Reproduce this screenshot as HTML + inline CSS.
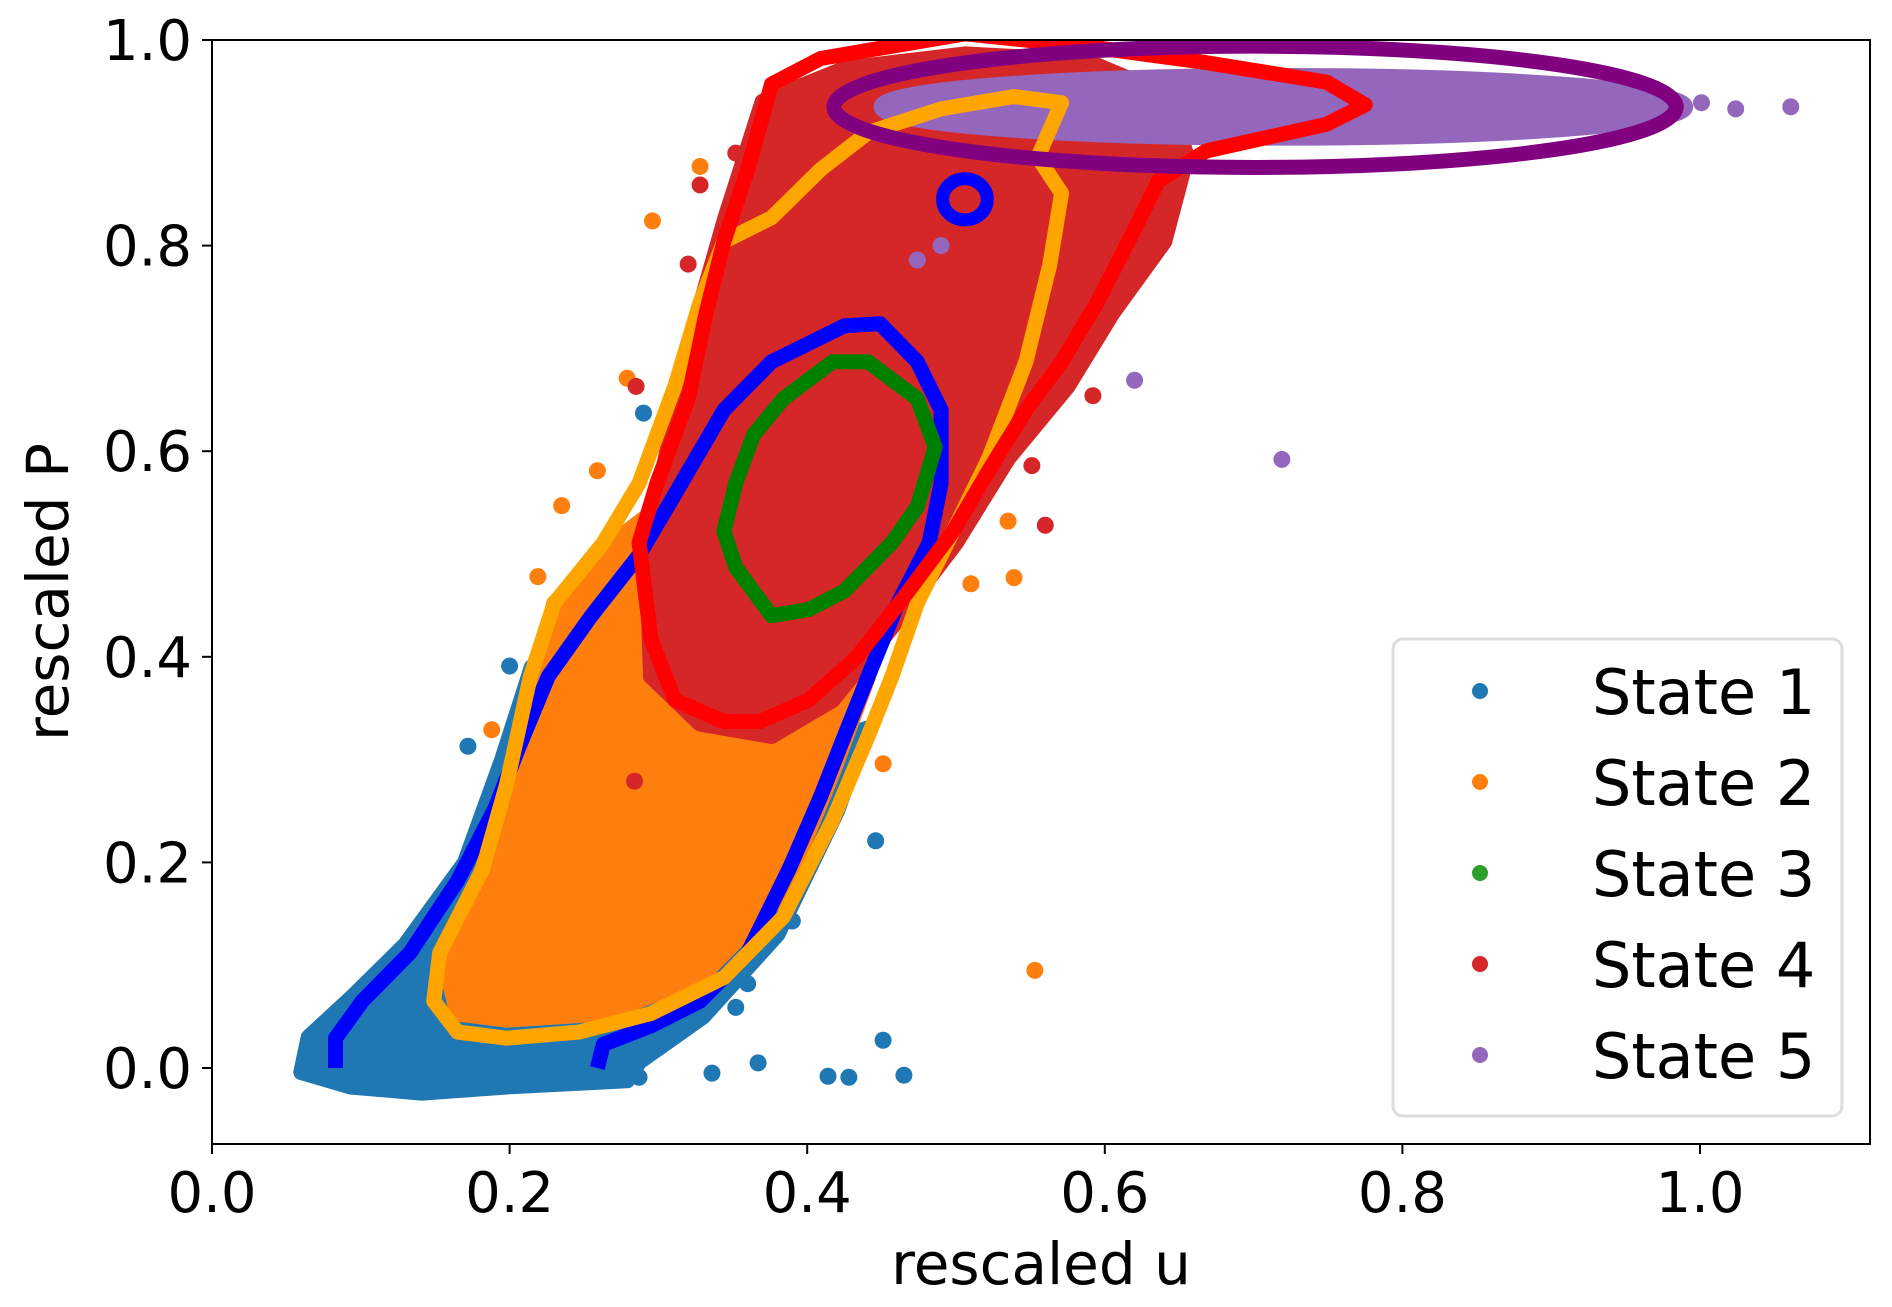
<!DOCTYPE html>
<html><head><meta charset="utf-8"><style>
html,body{margin:0;padding:0;background:#fff;}
svg{display:block;font-family:"DejaVu Sans","Liberation Sans",sans-serif;}
</style></head><body>
<svg id="chart" width="1892" height="1307" viewBox="0 0 1892 1307" xmlns="http://www.w3.org/2000/svg">
<defs><clipPath id="clip"><rect x="212" y="40" width="1658" height="1104"/></clipPath></defs>
<rect x="0" y="0" width="1892" height="1307" fill="#fff"/>
<g id="plot" clip-path="url(#clip)"></g>
<rect x="212" y="40" width="1658" height="1104" fill="none" stroke="#000" stroke-width="2"/>
<g id="ticks"></g>
<text x="1041" y="1284" font-size="58" text-anchor="middle">rescaled u</text>
<text x="0" y="0" font-size="58" text-anchor="middle" transform="translate(68,592) rotate(-90)">rescaled P</text>
<g>
<rect x="1393" y="639" width="449" height="477" rx="10" fill="#fff" fill-opacity="0.8" stroke="#ddd" stroke-width="3"/>
<g id="legend"></g>
</g>
</svg>
<script>
const NS="http://www.w3.org/2000/svg";
const xTicks=[0.0,0.2,0.4,0.6,0.8,1.0];
const yTicks=[0.0,0.2,0.4,0.6,0.8,1.0];
const stateNames=["State 1","State 2","State 3","State 4","State 5"];
const stateColors=["#1f77b4","#ff7f0e","#2ca02c","#d62728","#9467bd"];
// dense cloud outlines (u,P)
const cloud1=[[0.060,-0.004],[0.093,-0.018],[0.141,-0.024],[0.198,-0.018],[0.279,-0.012],[0.287,0.006],[0.330,0.050],[0.380,0.130],[0.420,0.250],[0.440,0.330],[0.420,0.320],[0.380,0.200],[0.320,0.080],[0.200,0.060],[0.175,0.120],[0.200,0.290],[0.215,0.390],[0.195,0.300],[0.170,0.200],[0.130,0.120],[0.095,0.070],[0.065,0.030]];
const cloud2=[[0.165,0.053],[0.157,0.100],[0.182,0.194],[0.206,0.311],[0.230,0.452],[0.279,0.522],[0.311,0.557],[0.425,0.405],[0.441,0.381],[0.417,0.287],[0.384,0.170],[0.328,0.088],[0.263,0.053],[0.198,0.047]];
const cloud4=[[0.328,0.335],[0.295,0.381],[0.292,0.511],[0.305,0.593],[0.322,0.710],[0.345,0.827],[0.370,0.940],[0.425,0.972],[0.506,0.986],[0.587,0.980],[0.644,0.945],[0.655,0.886],[0.640,0.804],[0.605,0.734],[0.575,0.663],[0.535,0.593],[0.500,0.511],[0.457,0.429],[0.417,0.358],[0.376,0.323]];
const cloud5=[0.720,0.935,0.270,0.030];
const outliers1=[[0.064,-0.004],[0.172,0.313],[0.200,0.391],[0.446,0.221],[0.390,0.143],[0.451,0.027],[0.465,-0.007],[0.414,-0.008],[0.428,-0.009],[0.367,0.005],[0.336,-0.005],[0.287,-0.009],[0.352,0.059],[0.360,0.082],[0.290,0.637]];
const outliers2=[[0.553,0.095],[0.328,0.877],[0.296,0.824],[0.235,0.547],[0.259,0.581],[0.279,0.671],[0.219,0.478],[0.188,0.329],[0.539,0.477],[0.535,0.532],[0.451,0.296],[0.510,0.471]];
const outliers4=[[0.328,0.859],[0.352,0.890],[0.592,0.654],[0.551,0.586],[0.560,0.528],[0.639,0.816],[0.284,0.279],[0.285,0.663],[0.320,0.782]];
const outliers5=[[1.061,0.935],[1.024,0.933],[0.719,0.592],[0.620,0.669],[0.490,0.800],[0.474,0.786],[1.001,0.939],[0.989,0.933]];
// density contours (u,P)
const contourBlue=[[0.083,0.0],[0.083,0.029],[0.101,0.065],[0.133,0.112],[0.165,0.182],[0.190,0.252],[0.206,0.311],[0.226,0.381],[0.255,0.440],[0.287,0.499],[0.311,0.558],[0.344,0.640],[0.376,0.687],[0.425,0.722],[0.449,0.724],[0.474,0.687],[0.490,0.640],[0.490,0.569],[0.482,0.511],[0.461,0.452],[0.441,0.381],[0.425,0.323],[0.409,0.264],[0.388,0.194],[0.360,0.112],[0.328,0.065],[0.295,0.041],[0.263,0.023],[0.259,0.0]];
const contourBlueSmall=[0.506,0.845,0.015,0.020];
const contourOrange=[[0.165,0.035],[0.149,0.065],[0.153,0.112],[0.182,0.194],[0.198,0.276],[0.214,0.381],[0.230,0.452],[0.263,0.511],[0.287,0.569],[0.311,0.663],[0.328,0.745],[0.344,0.804],[0.376,0.827],[0.409,0.874],[0.441,0.910],[0.490,0.933],[0.539,0.945],[0.571,0.939],[0.555,0.886],[0.571,0.851],[0.563,0.781],[0.547,0.687],[0.522,0.593],[0.498,0.522],[0.474,0.452],[0.457,0.381],[0.441,0.323],[0.417,0.241],[0.384,0.147],[0.344,0.088],[0.295,0.053],[0.247,0.035],[0.198,0.029]];
const contourGreen=[[0.376,0.440],[0.352,0.487],[0.344,0.522],[0.352,0.569],[0.364,0.616],[0.384,0.651],[0.417,0.687],[0.441,0.687],[0.474,0.651],[0.486,0.604],[0.474,0.546],[0.457,0.511],[0.425,0.464],[0.401,0.446]];
const contourRed=[[0.344,0.337],[0.311,0.358],[0.295,0.417],[0.287,0.511],[0.299,0.569],[0.320,0.651],[0.332,0.734],[0.344,0.804],[0.360,0.874],[0.376,0.957],[0.409,0.982],[0.457,0.994],[0.506,1.006],[0.587,0.994],[0.668,0.978],[0.749,0.959],[0.775,0.937],[0.749,0.918],[0.668,0.892],[0.636,0.863],[0.620,0.816],[0.595,0.745],[0.571,0.687],[0.547,0.640],[0.522,0.581],[0.498,0.522],[0.465,0.458],[0.433,0.399],[0.401,0.358],[0.368,0.337]];
const contourPurple=[0.701,0.935,0.283,0.059];

const X=u=>212+u*1488;
const Y=p=>1068-p*1028;
const plot=document.getElementById('plot');
function mk(tag,attrs,parent){const e=document.createElementNS(NS,tag);for(const k in attrs)e.setAttribute(k,attrs[k]);parent.appendChild(e);return e;}
function pts(a){return a.map(p=>X(p[0]).toFixed(1)+','+Y(p[1]).toFixed(1)).join(' ');}
function cloud(a,c,name){const e=mk('polygon',{points:pts(a),fill:c,stroke:c,'stroke-width':16,'stroke-linejoin':'round'},plot);

}
function dots(a,c,name){a.forEach(p=>{const e=mk('circle',{cx:X(p[0]),cy:Y(p[1]),r:8.5,fill:c},plot);

});}
function ell(a,attrs,name){const e=mk('ellipse',Object.assign({cx:X(a[0]),cy:Y(a[1]),rx:a[2]*1488,ry:a[3]*1028},attrs),plot);

}
function contour(a,c,name){const e=mk('polygon',{points:pts(a),fill:'none',stroke:c,'stroke-width':15,'stroke-linejoin':'round'},plot);

}
cloud(cloud1,stateColors[0],'state1-cloud');dots(outliers1,stateColors[0],'state1-point');
cloud(cloud2,stateColors[1],'state2-cloud');dots(outliers2,stateColors[1],'state2-point');
cloud(cloud4,stateColors[3],'state4-cloud');dots(outliers4,stateColors[3],'state4-point');
ell(cloud5,{fill:stateColors[4],stroke:stateColors[4],'stroke-width':16},'state5-cloud');dots(outliers5,stateColors[4],'state5-point');
(function(){const e=mk('polyline',{points:pts(contourBlue),fill:'none',stroke:'#0000ff','stroke-width':15,'stroke-linejoin':'round'},plot);

})();
ell(contourBlueSmall,{fill:'none',stroke:'#0000ff','stroke-width':13},'state1-contour-small');
contour(contourOrange,'#ffa500','state2-contour');
contour(contourGreen,'#008000','state3-contour');
contour(contourRed,'#ff0000','state4-contour');
ell(contourPurple,{fill:'none',stroke:'#800080','stroke-width':15},'state5-contour');

const tk=document.getElementById('ticks');
xTicks.forEach(v=>{const l=mk('line',{x1:X(v),x2:X(v),y1:1144,y2:1154,stroke:'#000','stroke-width':2},tk);


const t=mk('text',{x:X(v),y:1212,'font-size':56,'text-anchor':'middle'},tk);t.textContent=v.toFixed(1);

});
yTicks.forEach(v=>{const l=mk('line',{x1:202,x2:212,y1:Y(v),y2:Y(v),stroke:'#000','stroke-width':2},tk);


const t=mk('text',{x:192,y:Y(v)+20,'font-size':56,'text-anchor':'end'},tk);t.textContent=v.toFixed(1);

});

const lg=document.getElementById('legend');
stateNames.forEach((n,i)=>{const y=691+i*91;
const g=mk('g',{},lg);


mk('circle',{cx:1480,cy:y,r:8,fill:stateColors[i]},g);
const t=mk('text',{x:1592,y:y+23,'font-size':62},g);t.textContent=n;});
</script>
</body></html>
